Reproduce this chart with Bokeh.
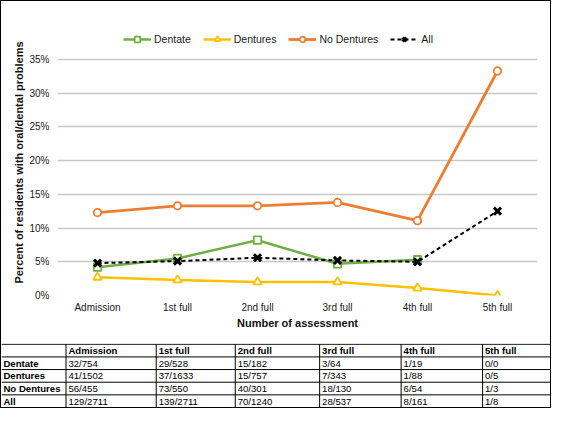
import numpy as np
from bokeh.plotting import figure
from bokeh.models import (Range1d, FactorRange, Legend, LegendItem, ColumnDataSource,
                          PrintfTickFormatter, FixedTicker, Title)
from bokeh.layouts import column
from bokeh.embed import file_html
from bokeh.resources import INLINE
from bokeh.core.properties import value

# ---------------- data ----------------
categories = ["Admission", "1st full", "2nd full", "3rd full", "4th full", "5th full"]
dentate = [4.2, 5.5, 8.2, 4.7, 5.3, np.nan]
dentures = [2.7, 2.3, 2.0, 2.0, 1.1, 0.0]
no_dentures = [12.3, 13.3, 13.3, 13.8, 11.1, 33.3]
all_residents = [4.8, 5.1, 5.6, 5.2, 5.0, 12.5]
y_ticks = [0, 5, 10, 15, 20, 25, 30, 35]

row_labels = ["Dentate", "Dentures", "No Dentures", "All"]
tbl_dentate = ["32/754", "29/528", "15/182", "3/64", "1/19", "0/0"]
tbl_dentures = ["41/1502", "37/1633", "15/757", "7/343", "1/88", "0/5"]
tbl_no_dentures = ["56/455", "73/550", "40/301", "18/130", "6/54", "1/3"]
tbl_all = ["129/2711", "139/2711", "70/1240", "28/537", "8/161", "1/8"]

FONT = "Liberation Sans"
GREEN = "#70ad47"
YELLOW = "#ffc000"
ORANGE = "#ed7d31"

# ---------------- chart ----------------
# the frame reaches above the 35% line so that the legend can sit inside it
p = figure(width=549, height=342, x_range=FactorRange(*categories), y_range=Range1d(0, 39.45),
           output_backend="svg", toolbar_location=None,
           min_border_left=56, min_border_right=13, min_border_top=28, min_border_bottom=48,
           outline_line_color=None, background_fill_color="white", border_fill_color="white")

p.xgrid.grid_line_color = None
p.ygrid.grid_line_color = "#c8c8c8"
p.ygrid.grid_line_width = 1.5
p.ygrid.ticker = FixedTicker(ticks=y_ticks)

p.yaxis.ticker = FixedTicker(ticks=y_ticks)
p.yaxis.formatter = PrintfTickFormatter(format="%d%%")
for ax in (p.xaxis[0], p.yaxis[0]):
    ax.axis_line_color = None
    ax.major_tick_line_color = None
    ax.minor_tick_line_color = None
    ax.major_tick_out = 0
    ax.major_tick_in = 0
    ax.minor_tick_out = 0
    ax.minor_tick_in = 0
    ax.major_label_text_font = FONT
    ax.major_label_text_font_size = "10px"
    ax.major_label_text_color = "#1a1a1a"
    ax.axis_label_text_font = FONT
    ax.axis_label_text_font_size = "11px"
    ax.axis_label_text_font_style = "bold"
    ax.axis_label_text_color = "#111111"
p.yaxis.major_label_standoff = 8
p.xaxis.major_label_standoff = 6
p.xaxis.axis_label = "Number of assessment"
p.xaxis.axis_label_standoff = 1

ytitle = Title(text="Percent of residents with oral/dental problems", align="center",
               offset=-15, standoff=4, text_font=FONT, text_font_size="11px",
               text_font_style="bold", text_color="#111111")
p.add_layout(ytitle, "left")

src = ColumnDataSource(dict(cat=categories, dentate=np.array(dentate, dtype=float),
                            dentures=dentures, nod=no_dentures, all=all_residents))

l1 = p.line("cat", "dentate", source=src, line_color=GREEN, line_width=2.5)
m1 = p.scatter("cat", "dentate", source=src, marker="square", size=7.5, line_color=GREEN,
               line_width=1.8, fill_color="white")
l2 = p.line("cat", "dentures", source=src, line_color=YELLOW, line_width=2.5)
m2 = p.scatter("cat", "dentures", source=src, marker="triangle", size=8.5, line_color=YELLOW,
               line_width=1.8, fill_color="white")
l3 = p.line("cat", "nod", source=src, line_color=ORANGE, line_width=2.8)
m3 = p.scatter("cat", "nod", source=src, marker="circle", size=7.5, line_color=ORANGE,
               line_width=1.8, fill_color="white")
l4 = p.line("cat", "all", source=src, line_color="black", line_width=2, line_dash="4 3")
m4 = p.scatter("cat", "all", source=src, marker="x", size=10, line_color="black", line_width=3)

legend = Legend(items=[LegendItem(label="Dentate", renderers=[l1, m1]),
                       LegendItem(label="Dentures", renderers=[l2, m2]),
                       LegendItem(label="No Dentures", renderers=[l3, m3]),
                       LegendItem(label="All", renderers=[l4, m4])],
                orientation="horizontal", location=(66, 249),
                background_fill_alpha=0, border_line_color=None,
                padding=0, margin=0, spacing=12, label_standoff=3,
                glyph_width=28, glyph_height=14, label_height=14,
                label_text_font=FONT, label_text_font_size="10.5px", label_text_color="#1a1a1a")
p.add_layout(legend, "center")

# ---------------- table ----------------
col_edges = [0, 66.5, 159.5, 241, 328, 412, 496, 566]
n_rows = 5
t = figure(width=549, height=64, x_range=Range1d(0, 566), y_range=Range1d(n_rows, -0.06),
           output_backend="svg", toolbar_location=None, min_border=0,
           x_axis_location=None, y_axis_location=None, outline_line_color=None,
           background_fill_color="white", border_fill_color="white")
t.grid.grid_line_color = None
if "frame_align" in t.properties():
    t.frame_align = False
    p.frame_align = False

# grid lines
hx0, hy0, hx1, hy1 = [], [], [], []
for r in range(n_rows):
    hx0.append(col_edges[0]); hx1.append(col_edges[-1]); hy0.append(r); hy1.append(r)
for c in col_edges[1:-1]:
    hx0.append(c); hx1.append(c); hy0.append(0); hy1.append(n_rows)
t.segment(hx0, hy0, hx1, hy1, line_color="black", line_width=1)

rows_data = [tbl_dentate, tbl_dentures, tbl_no_dentures, tbl_all]
bx, by, btxt = [], [], []
nx, ny, ntxt = [], [], []
for j, cat in enumerate(categories):
    bx.append(col_edges[j + 1] + 2.5); by.append(0.5); btxt.append(cat)
for i, lab in enumerate(row_labels):
    bx.append(col_edges[0] + 2.0); by.append(i + 1.5); btxt.append(lab)
    for j, v in enumerate(rows_data[i]):
        nx.append(col_edges[j + 1] + 2.5); ny.append(i + 1.5); ntxt.append(v)
t.text(bx, by, text=btxt, text_font=value(FONT), text_font_size="9.6px",
       text_font_style="bold", text_baseline="middle", text_align="left", text_color="black")
t.text(nx, ny, text=ntxt, text_font=value(FONT), text_font_size="9.6px",
       text_baseline="middle", text_align="left", text_color="black")

layout = column(p, t, spacing=0, styles={"border": "1px solid black"})
open("out.html", "w").write(file_html(layout, INLINE))
